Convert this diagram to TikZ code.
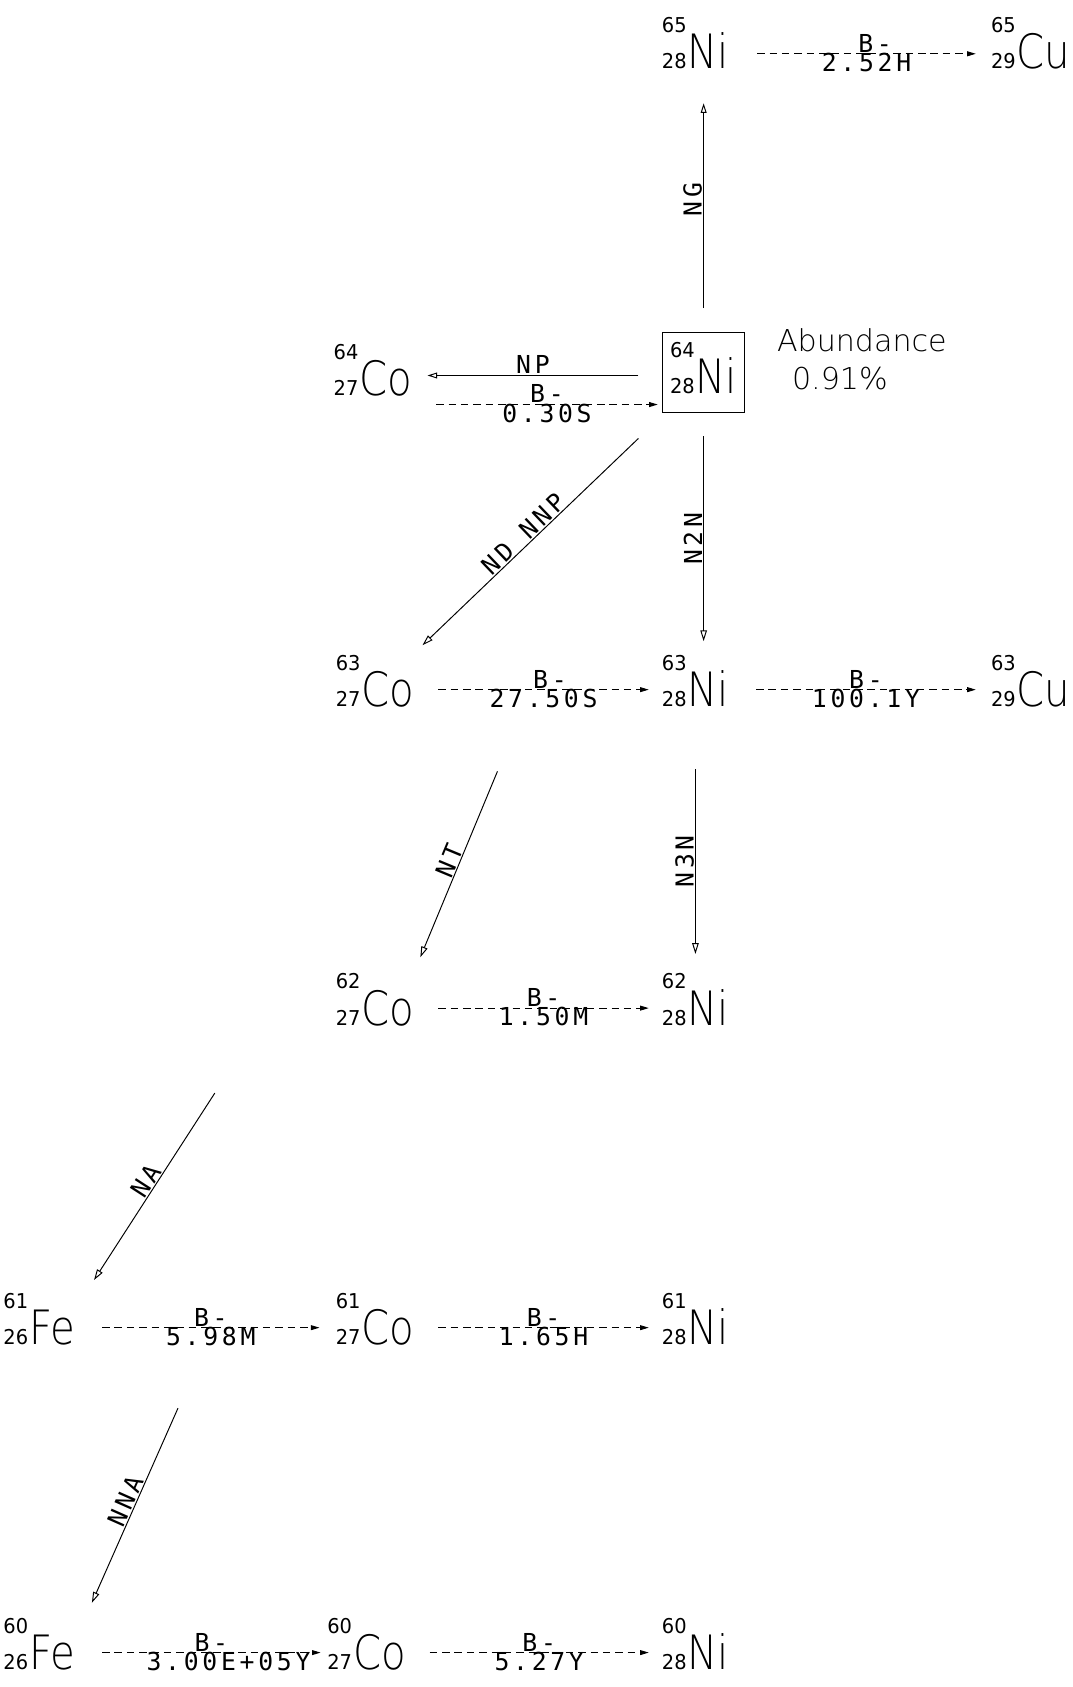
\documentclass[tikz,border=0pt]{standalone}
\usepackage{fontspec}
\setmainfont{DejaVu Sans}
\IfFontExistsTF{DejaVu Sans ExtraLight}
  {\newfontfamily\elfontfam[FakeStretch=0.85]{DejaVu Sans ExtraLight}
   \newfontfamily\thinfam{DejaVu Sans ExtraLight}}
  {\newfontfamily\elfontfam[FakeStretch=0.85]{DejaVu Sans}
   \newfontfamily\thinfam{DejaVu Sans}}
\newfontfamily\digfam[FakeStretch=0.95]{DejaVu Sans}
\newfontfamily\lbfontfam[LetterSpace=15]{DejaVu Sans Mono}
\usetikzlibrary{arrows.meta,calc}

\newcommand\elsize{\elfontfam\fontsize{44}{44}\selectfont}
\newcommand\digsize{\digfam\fontsize{19}{19}\selectfont}
\newcommand\nuclide[3]{{\digsize\makebox[0pt][l]{\raisebox{34pt}{#1}}#2}\hspace{1pt}{\elsize #3}}

\tikzset{
  nuc/.style={inner sep=0pt, anchor=base west},
  decay/.style={dash pattern=on 7pt off 4.5pt, line width=0.9pt, arrows={-Triangle[length=8pt,width=4.5pt]}},
  rxup/.style={line width=0.9pt, arrows={-Triangle[open,length=9pt,width=5.5pt]}},
  rxdown/.style={line width=0.9pt, arrows={Triangle[open,length=10pt,width=6pt]-}},
  lab/.style={font=\lbfontfam\fontsize{23}{23}\selectfont, inner sep=1pt},
  val/.style={lab, yshift=2pt},
}

\begin{document}
\begin{tikzpicture}[x=1pt,y=1pt]
\useasboundingbox (0,0) rectangle (997,-1568);

% nuclides
\node[nuc] (ni65) at (615,-64) {\nuclide{65}{28}{Ni}};
\node[nuc] (cu65) at (921,-64) {\nuclide{65}{29}{Cu}};

\node[nuc] (co64) at (310,-368) {\nuclide{64}{27}{Co}};
\node[draw, line width=0.9pt, inner xsep=7pt, inner ysep=9pt, text depth=8pt] (ni64) at (654,-346) {\nuclide{64}{28}{Ni}};
\node[anchor=north west, align=left, font=\thinfam\fontsize{28}{36}\selectfont, inner sep=0pt] (abund) at (722,-305) {Abundance\\\hspace{0.5em}0.91\%};

\node[nuc] (co63) at (312,-657) {\nuclide{63}{27}{Co}};
\node[nuc] (ni63) at (615,-657) {\nuclide{63}{28}{Ni}};
\node[nuc] (cu63) at (921,-657) {\nuclide{63}{29}{Cu}};

\node[nuc] (co62) at (312,-953) {\nuclide{62}{27}{Co}};
\node[nuc] (ni62) at (615,-953) {\nuclide{62}{28}{Ni}};

\node[nuc] (fe61) at (3,-1250) {\nuclide{61}{26}{Fe}};
\node[nuc] (co61) at (312,-1250) {\nuclide{61}{27}{Co}};
\node[nuc] (ni61) at (615,-1250) {\nuclide{61}{28}{Ni}};

\node[nuc] (fe60) at (3,-1552) {\nuclide{60}{26}{Fe}};
\node[nuc] (co60) at (304,-1552) {\nuclide{60}{27}{Co}};
\node[nuc] (ni60) at (615,-1552) {\nuclide{60}{28}{Ni}};

% beta decays
\draw[decay] ($(ni65.base east)+(26,14)$) -- ($(cu65.base west)+(-14,14)$)
  node[lab,midway,above,xshift=8pt]{B-} node[val,midway,below]{2.52H};
\draw[decay] ($(co64.base east)+(22,-8)$) -- ($(ni64.west |- co64.base)+(-4,-8)$)
  node[lab,midway,above]{B-} node[val,midway,below]{0.30S};
\draw[decay] ($(co63.base east)+(22,16)$) -- ($(ni63.base west)+(-12,16)$)
  node[lab,midway,above,xshift=6pt]{B-} node[val,midway,below]{27.50S};
\draw[decay] ($(ni63.base east)+(25,16)$) -- ($(cu63.base west)+(-14,16)$)
  node[lab,midway,above]{B-} node[val,midway,below]{100.1Y};
\draw[decay] ($(co62.base east)+(22,16)$) -- ($(ni62.base west)+(-12,16)$)
  node[lab,midway,above]{B-} node[val,midway,below]{1.50M};
\draw[decay] ($(fe61.base east)+(25,16)$) -- ($(co61.base west)+(-15,16)$)
  node[lab,midway,above]{B-} node[val,midway,below]{5.98M};
\draw[decay] ($(co61.base east)+(22,16)$) -- ($(ni61.base west)+(-12,16)$)
  node[lab,midway,above]{B-} node[val,midway,below]{1.65H};
\draw[decay] ($(fe60.base east)+(25,16)$) -- ($(co60.base west)+(-6,16)$)
  node[lab,midway,above]{B-} node[val,midway,below,xshift=16pt]{3.00E+05Y};
\draw[decay] ($(co60.base east)+(22,16)$) -- ($(ni60.base west)+(-12,16)$)
  node[lab,midway,above]{B-} node[val,midway,below]{5.27Y};

% reactions
\draw[rxup] ($(ni64.north)+(0,22)$) -- ($(ni64.north |- ni65.base)+(0,-32)$)
  node[lab,midway,sloped,above,xshift=6pt]{NG};
\draw[rxup] ($(ni64.west)+(-22,-3)$) -- ($(ni64.west -| co64.east)+(14,-3)$)
  node[lab,midway,above]{NP};
\draw[rxdown] ($(ni64.south |- ni63.base)+(0,61)$) -- ($(ni64.south)+(0,-22)$)
  node[lab,midway,sloped,above]{N2N};
\draw[rxdown] ($(ni62.north)+(0,18)$) -- ($(ni63.south)+(0,-57)$)
  node[lab,midway,sloped,above]{N3N};
\draw[rxdown] ($(co63.north)+(44,9)$) -- ($(ni64.south west)+(-22,-24)$)
  node[lab,midway,sloped,above]{ND NNP};
\draw[rxdown] ($(co62.north)+(42,15)$) -- ($(co63.south east)+(77,-59)$)
  node[lab,midway,sloped,above]{NT};
\draw[rxdown] ($(fe61.north)+(51,12)$) -- ($(co62.south)+(-149,-62)$)
  node[lab,midway,sloped,above]{NA};
\draw[rxdown] ($(fe60.north)+(49,14)$) -- ($(fe61.south)+(129,-58)$)
  node[lab,midway,sloped,above]{NNA};
\end{tikzpicture}
\end{document}
